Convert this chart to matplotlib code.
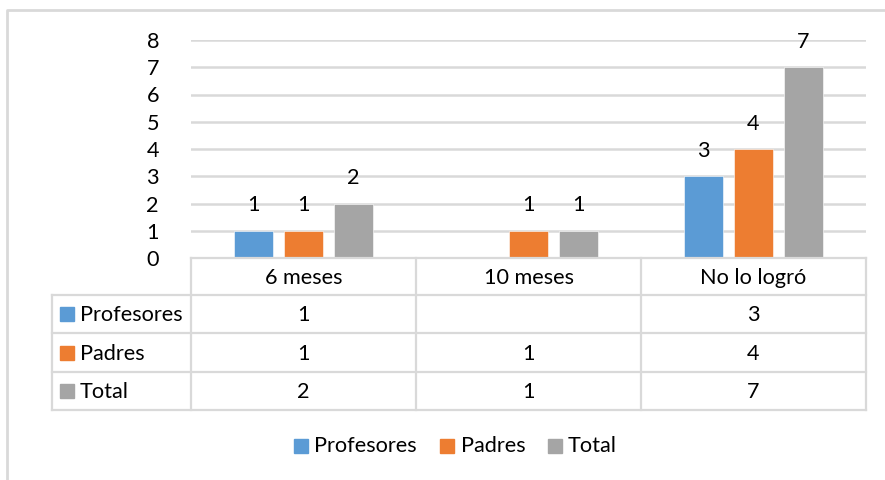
import matplotlib
matplotlib.use("Agg")
import matplotlib.pyplot as plt
from matplotlib.patches import Rectangle
from matplotlib.lines import Line2D

categories = ["6 meses", "10 meses", "No lo logró"]
series_names = ["Profesores", "Padres", "Total"]
profesores = [1, None, 3]
padres = [1, 1, 4]
total = [2, 1, 7]
yticks = [0, 1, 2, 3, 4, 5, 6, 7, 8]

series_values = [profesores, padres, total]
colors = ["#5B9BD5", "#ED7D31", "#A5A5A5"]
grid_color = "#D9D9D9"
FONT = "Lato"
FS = 15.6

W, H = 885, 480
fig = plt.figure(figsize=(W / 100, H / 100), dpi=100)
plt.rcParams['font.family'] = [FONT, 'DejaVu Sans']

def fx(px):
    return px / W

def fy(py):
    return 1 - py / H

# layout in pixels
L, R, T, B = 191, 866, 40, 258
ax = fig.add_axes([fx(L), fy(B), fx(R) - fx(L), fy(T) - fy(B)])
ax.set_xlim(0, len(categories))
ax.set_ylim(0, 8)
for s in ax.spines.values():
    s.set_visible(False)
ax.set_yticks(yticks)
ax.set_yticklabels([str(t) for t in yticks], fontsize=FS, family=FONT)
ax.tick_params(axis='y', length=0, pad=23)
ax.set_xticks([])
ax.yaxis.grid(True, color=grid_color, linewidth=1.8)
ax.set_axisbelow(True)

bw = 39 / 225
step = 50 / 225
for i, (name, vals, c) in enumerate(zip(series_names, series_values, colors)):
    for j, v in enumerate(vals):
        if v is None:
            continue
        x = j + 0.5 + (i - 1) * step
        ax.bar(x, v, width=bw, color=c, edgecolor="white", linewidth=0.4, zorder=3)
        ax.annotate(str(v), (x, v), xytext=(0, 11), textcoords="offset points",
                    ha="center", va="bottom", fontsize=FS, family=FONT)

# overlay axes in pixel coordinates for table, legend and border
ov = fig.add_axes([0, 0, 1, 1], zorder=5)
ov.set_xlim(0, W)
ov.set_ylim(H, 0)
ov.axis("off")
ov.patch.set_alpha(0)

lw = 1.6
# outer border
ov.add_line(Line2D([7, 7, W + 5], [H + 5, 10, 10], color=grid_color, lw=2))

col_x = [191, 416, 641, 866]
row_y = [258, 295, 333, 372, 410]
left_x = 52
# horizontal lines
ov.add_line(Line2D([col_x[0], col_x[-1]], [row_y[0], row_y[0]], color=grid_color, lw=lw))
for y in row_y[1:]:
    ov.add_line(Line2D([left_x, col_x[-1]], [y, y], color=grid_color, lw=lw))
# vertical lines
for x in col_x:
    ov.add_line(Line2D([x, x], [row_y[0], row_y[-1]], color=grid_color, lw=lw))
ov.add_line(Line2D([left_x, left_x], [row_y[1], row_y[-1]], color=grid_color, lw=lw))

# header
for j, cat in enumerate(categories):
    cx = (col_x[j] + col_x[j + 1]) / 2
    ov.text(cx, (row_y[0] + row_y[1]) / 2 + 1, cat, ha="center", va="center",
            fontsize=FS, family=FONT)
# rows
for i, (name, vals, c) in enumerate(zip(series_names, series_values, colors)):
    cy = (row_y[i + 1] + row_y[i + 2]) / 2
    ov.add_patch(Rectangle((60, cy - 7), 14, 14, color=c))
    ov.text(80, cy + 1, name, ha="left", va="center", fontsize=FS, family=FONT)
    for j, v in enumerate(vals):
        if v is None:
            continue
        cx = (col_x[j] + col_x[j + 1]) / 2
        ov.text(cx, cy + 1, str(v), ha="center", va="center", fontsize=FS, family=FONT)

# legend
leg_items = [(294, 314), (440, 461), (548, 568)]
for (sx, tx), name, c in zip(leg_items, series_names, colors):
    ov.add_patch(Rectangle((sx, 439), 14, 14, color=c))
    ov.text(tx, 446, name, ha="left", va="center", fontsize=FS, family=FONT)

fig.savefig("out.png", dpi=100)
